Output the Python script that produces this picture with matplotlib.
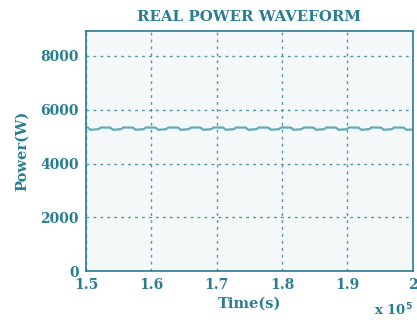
import numpy as np
import matplotlib.pyplot as plt

# time in units of 1e5 s, power in W
time_1e5 = [1.500,
            1.503, 1.507, 1.519, 1.523,
            1.5375, 1.5415, 1.5535, 1.5575,
            1.572, 1.576, 1.588, 1.592,
            1.6065, 1.6105, 1.6225, 1.6265,
            1.641, 1.645, 1.657, 1.661,
            1.6755, 1.6795, 1.6915, 1.6955,
            1.710, 1.714, 1.726, 1.730,
            1.7445, 1.7485, 1.7605, 1.7645,
            1.779, 1.783, 1.795, 1.799,
            1.8135, 1.8175, 1.8295, 1.8335,
            1.848, 1.852, 1.864, 1.868,
            1.8825, 1.8865, 1.8985, 1.9025,
            1.917, 1.921, 1.933, 1.937,
            1.9515, 1.9555, 1.9675, 1.9715,
            1.986, 1.990, 2.000]
power = [5335,
         5335, 5255, 5275, 5340,
         5335, 5255, 5275, 5340,
         5335, 5255, 5275, 5340,
         5335, 5255, 5275, 5340,
         5335, 5255, 5275, 5340,
         5335, 5255, 5275, 5340,
         5335, 5255, 5275, 5340,
         5335, 5255, 5275, 5340,
         5335, 5255, 5275, 5340,
         5335, 5255, 5275, 5340,
         5335, 5255, 5275, 5340,
         5335, 5255, 5275, 5340,
         5335, 5255, 5275, 5340,
         5335, 5255, 5275, 5340,
         5335, 5255, 5265]

xticks = [1.5, 1.6, 1.7, 1.8, 1.9, 2.0]
xlabels = ['1.5', '1.6', '1.7', '1.8', '1.9', '2']
yticks = [0, 2000, 4000, 6000, 8000]

dark = '#2a7d92'
line_c = '#62aab8'

plt.rcParams['font.family'] = ['DejaVu Serif']
plt.rcParams['font.weight'] = 'bold'

fig = plt.figure(figsize=(4.17, 3.22), dpi=100)
ax = fig.add_axes([0.206, 0.158, 0.784, 0.746])
ax.set_facecolor('#f4f8f9')

ax.plot(time_1e5, power, color=line_c, lw=1.6)

ax.set_xlim(1.5, 2.0)
ax.set_ylim(0, 8930)
ax.set_xticks(xticks)
ax.set_xticklabels(xlabels)
ax.set_yticks(yticks)
ax.tick_params(length=0, colors=dark, labelsize=10, pad=5)
for lab in ax.get_xticklabels() + ax.get_yticklabels():
    lab.set_fontweight('bold')

ax.grid(True, ls=(0, (2, 3)), color='#3f8fa3', lw=1.0, alpha=0.9)
for s in ax.spines.values():
    s.set_color(dark)
    s.set_linewidth(1.2)

ax.set_title('REAL POWER WAVEFORM', color=dark, fontsize=10.8, fontweight='bold', pad=7)
ax.set_xlabel('Time(s)', color=dark, fontsize=10.5, fontweight='bold', labelpad=3)
ax.set_ylabel('Power(W)', color=dark, fontsize=10.5, fontweight='bold', labelpad=8)
fig.text(0.897, 0.02, r'x 10$^5$', color=dark, fontsize=9.5, fontweight='bold')

fig.savefig('out.png', dpi=100)
